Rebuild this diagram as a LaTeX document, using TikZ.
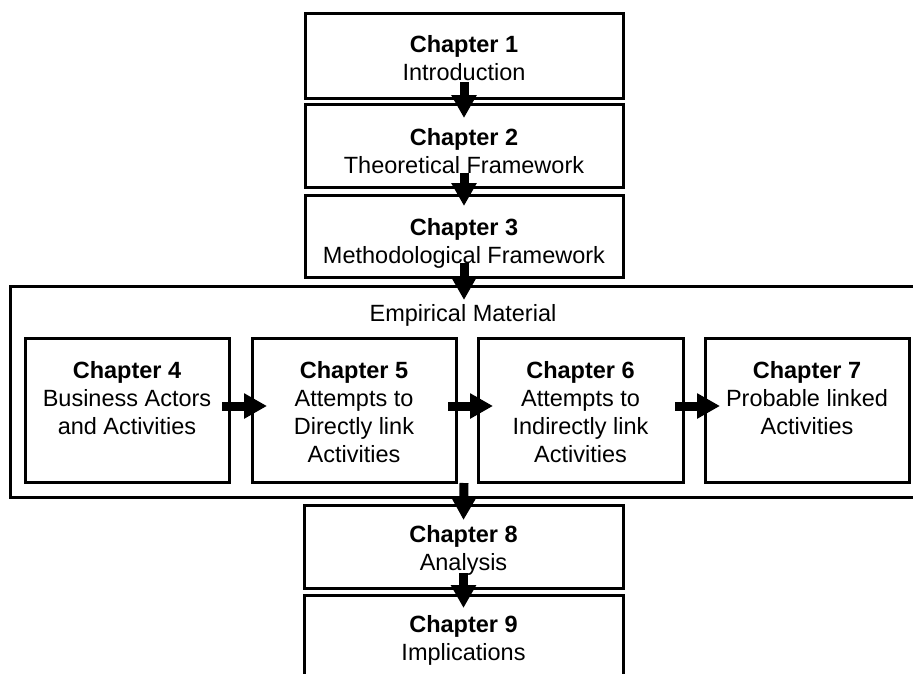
\documentclass[tikz,border=0pt]{standalone}
\usepackage{fontspec}
\setmainfont{Liberation Sans}
\usetikzlibrary{arrows.meta,calc}

\tikzset{
  box/.style={rectangle, draw=black, line width=3pt, fill=white,
              inner sep=0pt, outer sep=0pt},
  boxtext/.style={anchor=north, inner sep=0pt, outer sep=0pt, align=center,
                  font=\fontsize{23.5pt}{28.3pt}\selectfont},
  flow/.style={draw=black, line width=9pt,
               -{Triangle[length=23pt,width=24pt]}}
}
% first line of a box label: fixed 20pt height so the baseline sits 20pt below the top
\newcommand{\chaphead}[1]{\rule{0pt}{20pt}\textbf{#1}}

\begin{document}
\begin{tikzpicture}[x=1pt,y=-1pt]
  \path[use as bounding box, clip] (0,0) rectangle (913,673);

  % upper chain
  \node[box, minimum width=318pt, minimum height=85pt] (c1) at (464,55.5) {};
  \node[box, minimum width=318pt, minimum height=83pt] (c2) at (464,145.5) {};
  \node[box, minimum width=318pt, minimum height=82pt] (c3) at (464,236) {};

  % empirical material frame and its four chapters
  \node[box, minimum width=908pt, minimum height=211pt] (emp) at (464,391.5) {};
  \node[box, minimum width=204pt, minimum height=144pt] (c4) at (127,410) {};
  \node[box, minimum width=204pt, minimum height=144pt] (c5) at (354,410) {};
  \node[box, minimum width=205pt, minimum height=144pt] (c6) at (580.5,410) {};
  \node[box, minimum width=204pt, minimum height=144pt] (c7) at (807,410) {};

  % lower chain
  \node[box, minimum width=319pt, minimum height=83pt] (c8) at (463.5,546.5) {};
  \node[box, minimum width=319pt, minimum height=95pt] (c9) at (463.5,642.5) {};

  % labels
  \node[boxtext] (t1) at ($(c1.north)+(0,19)$) {\chaphead{Chapter 1}\\Introduction};
  \node[boxtext] (t2) at ($(c2.north)+(0,21)$) {\chaphead{Chapter 2}\\Theoretical Framework};
  \node[boxtext] (t3) at ($(c3.north)+(0,20)$) {\chaphead{Chapter 3}\\Methodological Framework};
  \node[boxtext] (temp) at ($(emp.north)+(-1,15)$) {\rule{0pt}{20pt}Empirical Material};
  \node[boxtext] (t4) at ($(c4.north)+(0,20)$) {\chaphead{Chapter 4}\\Business Actors\\and Activities};
  \node[boxtext] (t5) at ($(c5.north)+(0,20)$) {\chaphead{Chapter 5}\\Attempts to\\Directly link\\Activities};
  \node[boxtext] (t6) at ($(c6.north)+(0,20)$) {\chaphead{Chapter 6}\\Attempts to\\Indirectly link\\Activities};
  \node[boxtext] (t7) at ($(c7.north)+(0,20)$) {\chaphead{Chapter 7}\\Probable linked\\Activities};
  \node[boxtext] (t8) at ($(c8.north)+(0,17)$) {\chaphead{Chapter 8}\\Analysis};
  \node[boxtext] (t9) at ($(c9.north)+(0,17)$) {\chaphead{Chapter 9}\\Implications};

  % reading order
  \draw[flow] ($(c1.south)+(0,-16)$) -- ($(c2.north)+(0,14)$);
  \draw[flow] ($(c2.south)+(0,-14)$) -- ($(c3.north)+(0,11)$);
  \draw[flow] ($(c3.south)+(0,-14)$) -- ($(emp.north)+(0,14)$);
  \draw[flow] ($(c4.east)+(-7,-4)$) -- ($(c5.west)+(15,-4)$);
  \draw[flow] ($(c5.east)+(-8,-4)$) -- ($(c6.west)+(15,-4)$);
  \draw[flow] ($(c6.east)+(-8,-4)$) -- ($(c7.west)+(15,-4)$);
  \draw[flow] ($(emp.south)+(0,-14)$) -- ($(c8.north)+(0,15)$);
  \draw[flow] ($(c8.south)+(0,-15)$) -- ($(c9.north)+(0,13)$);
\end{tikzpicture}
\end{document}
